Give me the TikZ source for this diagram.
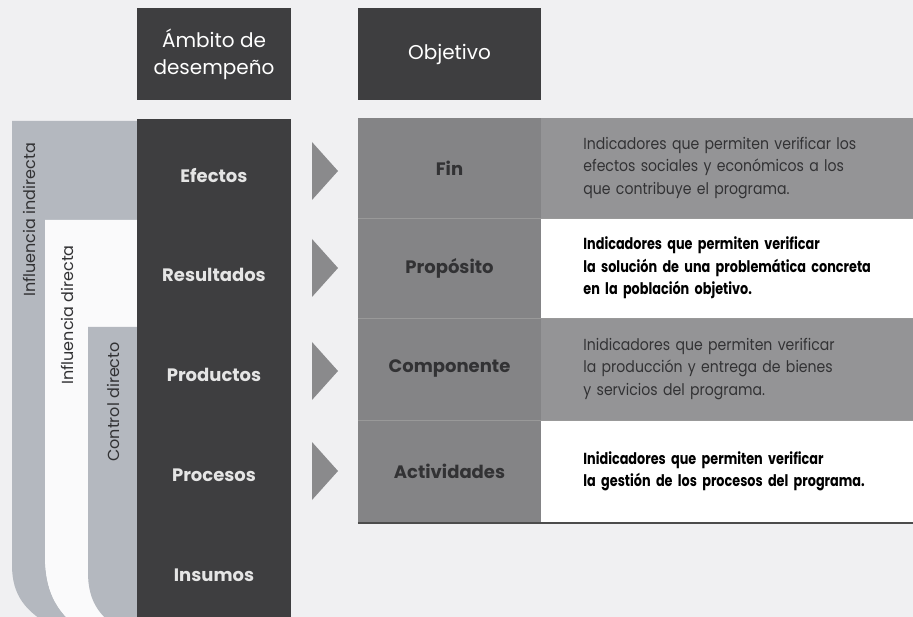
\documentclass[tikz,border=0pt]{standalone}
\usepackage{fontspec}
\setmainfont{Poppins}
\newfontfamily\condfont[FakeStretch=0.88]{Poppins}
\newfontfamily\boldcond[FakeStretch=0.8]{Poppins}
\usepackage{tikz}
\usetikzlibrary{positioning}
\definecolor{paper}{RGB}{240,240,242}
\definecolor{darkbox}{RGB}{62,62,64}
\definecolor{band}{RGB}{180,184,191}
\definecolor{labelcell}{RGB}{132,132,134}
\definecolor{desccell}{RGB}{148,148,150}
\definecolor{pointer}{RGB}{138,138,140}
\definecolor{inktext}{RGB}{50,50,52}
\tikzstyle{header} = [rectangle, fill=darkbox, text=white, minimum height=92pt, align=center, font=\fontsize{20}{27}\selectfont]
\tikzstyle{stage} = [text=white!90!black, font=\fontsize{18}{22}\selectfont\bfseries]
\tikzstyle{rowlabel} = [rectangle, fill=labelcell, minimum width=183pt, text=inktext, font=\fontsize{18}{22}\selectfont\bfseries]
\tikzstyle{desc} = [rectangle, minimum width=372pt, text width=330pt, inner xsep=42pt, align=left, font=\condfont\fontsize{16}{22.5}\selectfont]
\tikzstyle{strongdesc} = [desc, fill=white, text=black, font=\boldcond\bfseries\fontsize{16}{22.5}\selectfont]
\tikzstyle{bandlabel} = [rotate=90, text=inktext, font=\fontsize{16}{18}\selectfont]

\begin{document}
\begin{tikzpicture}[x=1pt, y=-1pt]
    \useasboundingbox (0,0) rectangle (913,617);
    \clip (0,0) rectangle (913,617);
    \fill[paper] (0,0) rectangle (913,617);

    % Influence bands
    \fill[band] (137,121) -- (12,121) -- (12,565) .. controls (12,595) and (25,612) .. (55,628) -- (80,630) .. controls (55,610) and (45,590) .. (45,555) -- (45,220) -- (137,220) -- cycle;
    \fill[white!70!paper] (137,220) -- (45,220) -- (45,555) .. controls (45,590) and (55,610) .. (80,630) -- (120,630) .. controls (98,615) and (88,600) .. (88,572) -- (88,327) -- (137,327) -- cycle;
    \fill[band] (137,327) -- (88,327) -- (88,572) .. controls (88,600) and (98,615) .. (120,630) -- (137,630) -- cycle;
    \node[bandlabel] (indirecta) at (29,220) {Influencia indirecta};
    \node[bandlabel] (directa) at (67,315) {Influencia directa};
    \node[bandlabel] (control) at (113,402) {Control directo};

    % Headers
    \node[header, minimum width=154pt] (ambito) at (214,54) {Ámbito de\\desempeño};
    \node[header, minimum width=183pt] (objetivo) at (449.5,54) {Objetivo};

    % Performance column
    \node[rectangle, fill=darkbox, minimum width=154pt, minimum height=520pt, anchor=north] (column) at (214,119) {};
    \node[stage] (efectos) at (214,176) {Efectos};
    \node[stage] (resultados) at (214,275) {Resultados};
    \node[stage] (productos) at (214,375) {Productos};
    \node[stage] (procesos) at (214,475) {Procesos};
    \node[stage] (insumos) at (214,575) {Insumos};

    % Pointers
    \fill[pointer] (312,142) -- (338,171) -- (312,200) -- cycle;
    \fill[pointer] (312,239) -- (338,268) -- (312,297) -- cycle;
    \fill[pointer] (312,342) -- (338,371) -- (312,400) -- cycle;
    \fill[pointer] (312,442) -- (338,471) -- (312,500) -- cycle;

    % Objectives table
    \node[rowlabel, minimum height=100pt] (fin) at (449.5,168) {Fin};
    \node[desc, fill=desccell, text=inktext, minimum height=100pt, right=0pt of fin] (finDesc) {Indicadores que permiten verificar los\\efectos sociales y económicos a los\\que contribuye el programa.};
    \node[rowlabel, minimum height=100pt] (proposito) at (449.5,268) {Propósito};
    \node[strongdesc, minimum height=100pt, right=0pt of proposito] (propDesc) {Indicadores que permiten verificar\\la solución de una problemática concreta\\en la población objetivo.};
    \node[rowlabel, minimum height=102pt] (componente) at (449.5,369) {Componente};
    \node[desc, fill=desccell, text=inktext, minimum height=102pt, right=0pt of componente] (compDesc) {Inidicadores que permiten verificar\\la producción y entrega de bienes\\y servicios del programa.};
    \node[rowlabel, minimum height=103pt] (actividades) at (449.5,471.5) {Actividades};
    \node[strongdesc, minimum height=103pt, right=0pt of actividades] (actDesc) {Inidicadores que permiten verificar\\la gestión de los procesos del programa.};

    % Row rules
    \draw[black!40, line width=0.8pt] (fin.south west) -- (finDesc.south east);
    \draw[black!40, line width=0.8pt] (proposito.south west) -- (propDesc.south east);
    \draw[black!40, line width=0.8pt] (componente.south west) -- (compDesc.south east);
    \draw[black!70, line width=1.5pt] (actividades.south west) -- (actDesc.south east);
\end{tikzpicture}
\end{document}
